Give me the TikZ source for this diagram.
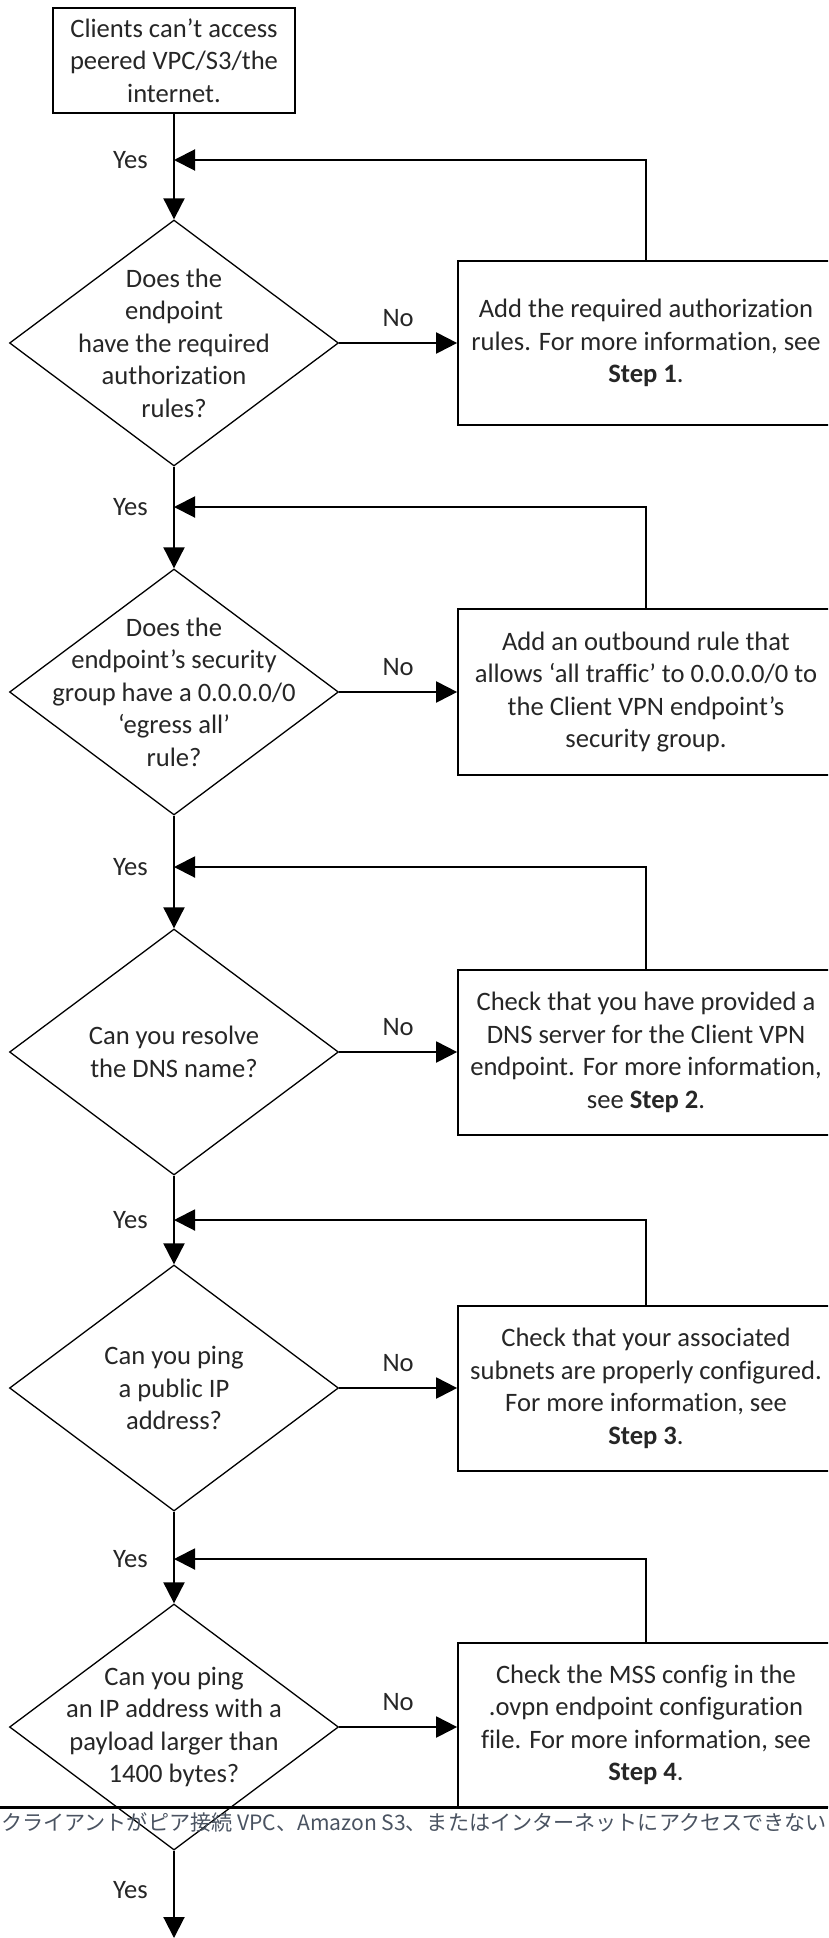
\documentclass[tikz,border=0pt]{standalone}
\usepackage{fontspec}
\setmainfont{Carlito}[Ligatures={NoCommon,NoRare}]
\newfontfamily\cjkfont{Noto Sans CJK JP}
\usetikzlibrary{shapes.geometric,arrows.meta}
\definecolor{txt}{HTML}{262626}
\definecolor{capcol}{HTML}{4A5361}
\begin{document}
\begin{tikzpicture}[x=1pt,y=-1pt,
  every node/.style={font=\fontsize{26.6}{32.5}\selectfont, text=txt},
  boxnode/.style={draw, line width=1.7pt, rectangle, inner sep=0pt, align=center},
  decision/.style={draw, diamond, line width=1.3pt, minimum width=329pt, minimum height=246pt, inner sep=0pt},
  dtext/.style={align=center, inner sep=0pt},
  conn/.style={line width=2pt, -{Triangle[length=21pt,width=21pt]}},
  yeslabel/.style={anchor=east, inner sep=0pt, xshift=-26pt},
  nolabel/.style={midway, yshift=25pt, inner sep=0pt}
]
\useasboundingbox (0,0) rectangle (828,1938);
\begin{scope}
\clip (0,0) rectangle (828,1938);

% start box
\node[boxnode, minimum width=242pt, minimum height=105pt] (top) at (174,60.5)
  {Clients can’t access\\peered VPC/S3/the\\internet.};

% decisions
\node[decision, label={[dtext]center:{Does the\\endpoint\\have the required\\authorization\\rules?}}] (d1) at (174,343) {};
\node[decision, label={[dtext]center:{Does the\\endpoint’s security\\group have a 0.0.0.0/0\\‘egress all’\\rule?}}] (d2) at (174,692) {};
\node[decision, label={[dtext]center:{Can you resolve\\the DNS name?}}] (d3) at (174,1052) {};
\node[decision, label={[dtext]center:{Can you ping\\a public IP\\address?}}] (d4) at (174,1388) {};
\node[decision, label={[dtext]center:{Can you ping\\an IP address with a\\payload larger than\\1400 bytes?}}] (d5) at (174,1727) {};

% action boxes
\node[boxnode, minimum width=376pt, minimum height=164pt] (b1) at (646,343)
  {Add the required authorization\\rules. For more information, see\\\textbf{Step 1}.};
\node[boxnode, minimum width=376pt, minimum height=166pt] (b2) at (646,692)
  {Add an outbound rule that\\allows ‘all traffic’ to 0.0.0.0/0 to\\the Client VPN endpoint’s\\security group.};
\node[boxnode, minimum width=376pt, minimum height=165pt] (b3) at (646,1052.5)
  {Check that you have provided a\\DNS server for the Client VPN\\endpoint. For more information,\\see \textbf{Step 2}.};
\node[boxnode, minimum width=376pt, minimum height=165pt] (b4) at (646,1388.5)
  {Check that your associated\\subnets are properly configured.\\For more information, see\\\textbf{Step 3}.};
\node[boxnode, minimum width=376pt, minimum height=164pt] (b5) at (646,1725)
  {Check the MSS config in the\\.ovpn endpoint configuration\\file. For more information, see\\\textbf{Step 4}.};

% junctions on the main line
\coordinate (j1) at (174,160);
\coordinate (j2) at (174,507);
\coordinate (j3) at (174,867);
\coordinate (j4) at (174,1220);
\coordinate (j5) at (174,1559);
\coordinate (j6) at (174,1890);
\coordinate (fin) at (174,1938);

% main line
\draw[conn] (top) -- (d1);
\draw[conn] (d1) -- (d2);
\draw[conn] (d2) -- (d3);
\draw[conn] (d3) -- (d4);
\draw[conn] (d4) -- (d5);
\draw[conn] (d5) -- (fin);

% yes labels
\node[yeslabel] (y1) at (j1) {Yes};
\node[yeslabel] (y2) at (j2) {Yes};
\node[yeslabel] (y3) at (j3) {Yes};
\node[yeslabel] (y4) at (j4) {Yes};
\node[yeslabel] (y5) at (j5) {Yes};
\node[yeslabel] (y6) at (j6) {Yes};

% no branches
\draw[conn] (d1.east) -- (d1.east -| b1.west) node[nolabel] (n1) {No};
\draw[conn] (d2.east) -- (d2.east -| b2.west) node[nolabel] (n2) {No};
\draw[conn] (d3.east) -- (d3.east -| b3.west) node[nolabel] (n3) {No};
\draw[conn] (d4.east) -- (d4.east -| b4.west) node[nolabel] (n4) {No};
\draw[conn] (d5.east) -- (d5.east -| b5.west) node[nolabel] (n5) {No};

% feedback loops
\draw[conn] (b1.north) |- (j1);
\draw[conn] (b2.north) |- (j2);
\draw[conn] (b3.north) |- (j3);
\draw[conn] (b4.north) |- (j4);
\draw[conn] (b5.north) |- (j5);

% caption overlay
\draw[line width=3pt] (0,1807) -- (828,1807);
\node[font=\cjkfont\fontsize{21.1}{25}\selectfont, text=capcol, inner sep=0pt] (cap) at (414,1822)
  {クライアントがピア接続 VPC、Amazon S3、またはインターネットにアクセスできない};
\end{scope}
\end{tikzpicture}
\end{document}
